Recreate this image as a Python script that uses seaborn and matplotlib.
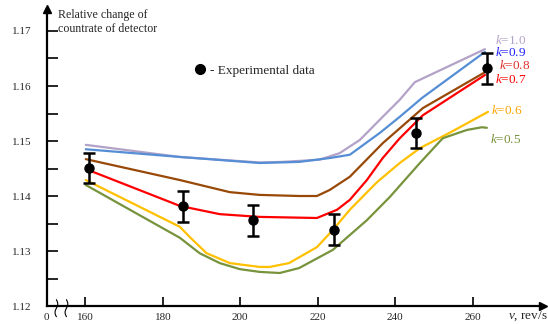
import numpy as np
import pandas as pd
import matplotlib
matplotlib.use("Agg")
import matplotlib.pyplot as plt
import seaborn as sns
from matplotlib.lines import Line2D

# Calculated curves for each k (speed in rev/s, relative change of countrate)
k_labels = ["k=1.0", "k=0.9", "k=0.8", "k=0.7", "k=0.6", "k=0.5"]

k10_x = [160.1, 184.4, 205.0, 210.9, 220.5, 225.7, 230.9, 236.8, 241.2, 245.1, 263.2]
k10_y = [1.1493, 1.1471, 1.1461, 1.1462, 1.1466, 1.1478, 1.1502, 1.1544, 1.1575, 1.1607, 1.1667]

k09_x = [160.1, 184.4, 205.0, 215.2, 223.1, 228.3, 236.1, 241.2, 246.9, 263.2]
k09_y = [1.1485, 1.1471, 1.1460, 1.1462, 1.1469, 1.1475, 1.1515, 1.1544, 1.1578, 1.1662]

k08_x = [160.1, 184.4, 197.3, 205.0, 215.2, 219.8, 223.1, 228.3, 236.8, 247.2, 263.2]
k08_y = [1.1467, 1.1429, 1.1407, 1.1402, 1.1400, 1.1400, 1.1411, 1.1435, 1.1496, 1.1560, 1.1625]

k07_x = [160.1, 184.4, 194.7, 205.0, 219.8, 225.0, 228.3, 232.7, 236.8, 241.2, 247.2, 263.2]
k07_y = [1.1449, 1.1382, 1.1367, 1.1362, 1.1360, 1.1375, 1.1393, 1.1429, 1.1469, 1.1505, 1.1547, 1.1620]

k06_x = [160.1, 184.4, 187.0, 191.3, 197.3, 205.0, 207.6, 212.6, 219.8, 223.9, 228.3, 235.3,
         241.2, 246.4, 254.1, 264.0]
k06_y = [1.1429, 1.1344, 1.1325, 1.1296, 1.1278, 1.1271, 1.1271, 1.1278, 1.1307, 1.1338, 1.1375,
         1.1425, 1.1460, 1.1487, 1.1515, 1.1553]

k05_x = [160.1, 184.4, 189.5, 194.7, 199.9, 205.0, 210.2, 215.2, 223.9, 232.7, 238.6, 246.4,
         252.3, 258.5, 262.4, 263.7]
k05_y = [1.1420, 1.1324, 1.1296, 1.1278, 1.1267, 1.1262, 1.1260, 1.1269, 1.1302, 1.1356, 1.1398,
         1.1460, 1.1505, 1.1520, 1.1525, 1.1524]

# Experimental data with error bars
exp_x = [160.9, 185.3, 203.3, 224.2, 245.3, 263.8]
exp_y = [1.1451, 1.1381, 1.1356, 1.1339, 1.1514, 1.1632]
exp_err = [0.0028, 0.0028, 0.0028, 0.0028, 0.0027, 0.0028]

# Curve label anchor values (end of each curve)
label_x = [265.8, 265.8, 266.9, 265.8, 264.7, 264.5]
label_y = [1.1683, 1.1661, 1.1638, 1.1611, 1.1556, 1.1502]

x_ticks = [150, 160, 180, 200, 220, 240, 260]
x_tick_labels = ["0", "160", "180", "200", "220", "240", "260"]
y_ticks = [1.12, 1.13, 1.14, 1.15, 1.16, 1.17]

line_colors = ["#b3a2c7", "#558ed5", "#984807", "#ff0000", "#ffc000", "#77933c"]
text_colors = ["#b3a2c7", "#1f1fff", "#e0302a", "#ff0000", "#ffa500", "#77933c"]

sns.set_style("white")
plt.rcParams["font.family"] = ["Liberation Serif", "DejaVu Serif"]
plt.rcParams["mathtext.fontset"] = "custom"
plt.rcParams["mathtext.rm"] = "Liberation Serif"
plt.rcParams["mathtext.it"] = "Liberation Serif:italic"

curves = []
for lab, xs, ys in zip(k_labels,
                       [k10_x, k09_x, k08_x, k07_x, k06_x, k05_x],
                       [k10_y, k09_y, k08_y, k07_y, k06_y, k05_y]):
    curves.append(pd.DataFrame({"speed": xs, "rel": ys, "k": lab}))
df = pd.concat(curves, ignore_index=True)

W, H = 548, 324
fig = plt.figure(figsize=(W / 100, H / 100), dpi=100)
ax = fig.add_axes([46.7 / W, 18 / H, (543 - 46.7) / W, (306 - 9) / H])

sns.lineplot(data=df, x="speed", y="rel", hue="k", hue_order=k_labels,
             palette=dict(zip(k_labels, line_colors)), estimator=None, sort=False,
             linewidth=1.6, legend=False, ax=ax)

ax.errorbar(exp_x, exp_y, yerr=exp_err, fmt="o", color="black", markersize=6.5,
            elinewidth=1.8, capsize=4, capthick=1.8, zorder=5)

for lab, lx, ly, c in zip(k_labels, label_x, label_y, text_colors):
    val = lab.split("=")[1]
    ax.text(lx, ly, "$k$=" + val, color=c, fontsize=9.5, va="center", ha="left")

ax.set_xlim(150, 278.2)
ax.set_ylim(1.12, 1.174)
ax.set_xticks(x_ticks)
ax.set_xticklabels(x_tick_labels)
ax.set_yticks(y_ticks)
ax.set_yticklabels([f"{v:.2f}" for v in y_ticks])
ax.set_yticks(np.arange(1.125, 1.17, 0.01), minor=True)
ax.tick_params(axis="both", which="both", direction="in", color="black", width=1.2,
               labelsize=8, left=True, bottom=True)
ax.tick_params(axis="y", which="both", length=8, pad=11)
ax.tick_params(axis="x", which="major", length=6.5, pad=5)
ax.set_xlabel("")
ax.set_ylabel("")

for side in ["top", "right"]:
    ax.spines[side].set_visible(False)
for side in ["left", "bottom"]:
    ax.spines[side].set_color("black")
    ax.spines[side].set_linewidth(1.6)

# axis arrows
ax.plot(0, 1, "^k", markersize=6, transform=ax.transAxes, clip_on=False)
ax.plot(1, 0, ">k", markersize=6, transform=ax.transAxes, clip_on=False)

# axis break marks
t = np.linspace(-1, 1, 30)
for bx in [152.5, 155.1]:
    ax.plot(bx + 0.35 * np.sin(t * np.pi), 1.1196 + 0.00155 * t, color="black", lw=0.8,
            clip_on=False)

fig.text(1.0, 1 - 316 / H, "$v$, rev/s", ha="right", va="center", fontsize=9.5)
fig.text(58 / W, 1 - 9 / H, "Relative change of\ncountrate of detector", ha="left",
         va="top", fontsize=8.6, linespacing=1.2)

handle = Line2D([], [], marker="o", color="black", linestyle="none", markersize=7)
ax.legend([handle], ["- Experimental data"], loc="center left", frameon=False,
          bbox_to_anchor=((200 - 11.5) / W, 1 - 71 / H), bbox_transform=fig.transFigure,
          borderpad=0, handlelength=0.8, handletextpad=0.3, fontsize=9.5)

fig.savefig("out.png", dpi=100)
